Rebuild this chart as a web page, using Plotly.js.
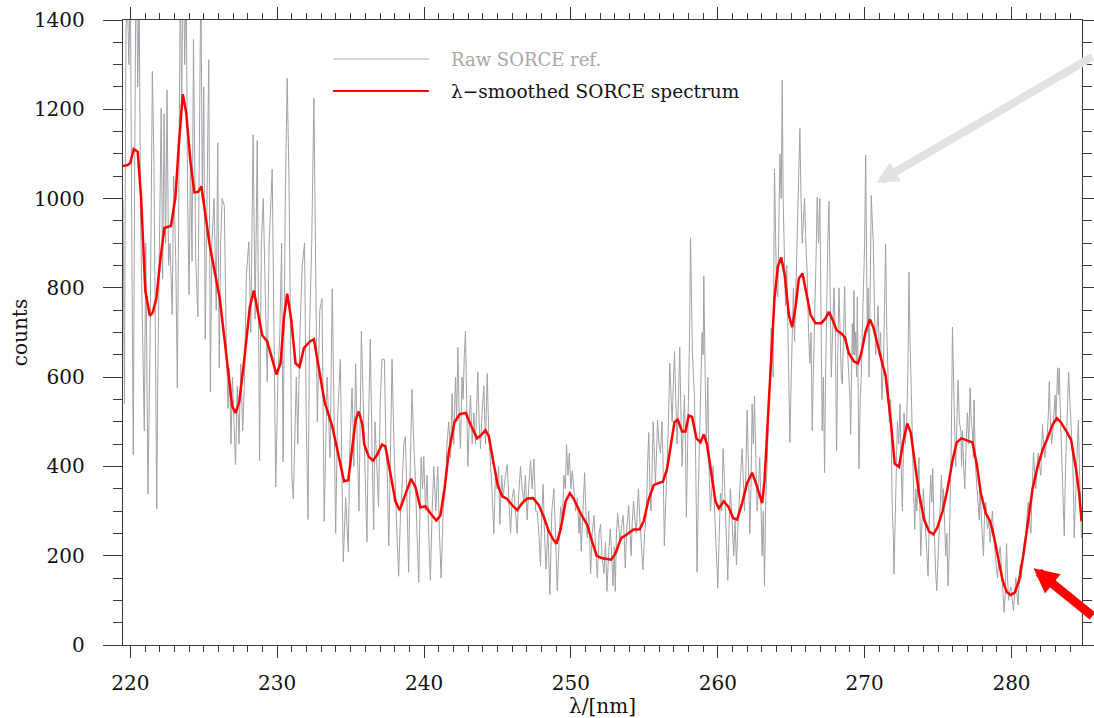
<!DOCTYPE html>
<html>
<head>
<meta charset="utf-8">
<script src="https://cdn.plot.ly/plotly-3.0.1.min.js"></script>
<style>
  html, body { margin: 0; padding: 0; background: #ffffff; }
  #chart { width: 1094px; height: 718px; }
</style>
</head>
<body>
<div id="chart"></div>
<script>
// ---------- data ----------
const legendRaw = "Raw SORCE ref.";
const legendSmooth = "\u03bb\u2212smoothed SORCE spectrum";
const xTitle = "\u03bb/[nm]";
const yTitle = "counts";

// raw SORCE reference spectrum (wavelength nm, counts)
const rawX = [
219.50,219.60,219.70,219.80,219.90,220.00,220.10,220.20,220.30,220.40,220.50,220.60,220.70,220.80,220.95,221.05,221.20,221.35,221.50,221.60,
221.70,221.80,221.86,222.00,222.10,222.20,222.30,222.40,222.50,222.60,222.70,222.85,222.95,223.10,223.20,223.30,223.40,223.50,223.60,223.70,
223.80,223.90,224.00,224.10,224.20,224.30,224.45,224.60,224.70,224.80,224.90,225.00,225.10,225.22,225.34,225.45,225.55,225.70,225.85,225.95,
226.05,226.15,226.25,226.40,226.52,226.65,226.75,226.85,226.95,227.16,227.28,227.40,227.52,227.65,227.78,227.90,228.07,228.20,228.36,228.50,
228.64,228.80,228.92,229.05,229.18,229.32,229.45,229.66,229.78,229.90,230.05,230.18,230.30,230.40,230.55,230.68,230.80,230.90,231.00,231.10,
231.20,231.30,231.40,231.55,231.70,231.86,231.98,232.10,232.20,232.35,232.50,232.62,232.73,232.90,233.05,233.20,233.30,233.40,233.60,233.75,
233.88,233.98,234.10,234.30,234.40,234.50,234.66,234.84,234.95,235.10,235.22,235.34,235.45,235.57,235.73,235.85,
236.00,236.11,236.22,236.34,236.45,236.57,236.66,236.75,236.90,237.02,237.14,237.30,237.40,237.48,237.60,237.72,237.82,237.95,238.05,238.15,
238.27,238.40,238.50,238.62,238.73,238.85,238.95,239.06,239.18,239.30,239.40,239.52,239.64,239.72,239.80,239.90,239.98,240.10,240.20,240.32,
240.43,240.55,240.66,240.80,240.93,241.05,241.16,241.30,241.45,241.56,241.68,241.80,241.91,242.02,242.14,242.22,242.30,242.40,242.48,242.58,
242.66,242.74,242.82,242.90,242.98,243.08,243.16,243.28,243.39,243.50,243.58,243.66,243.75,243.84,243.95,244.07,244.18,244.30,244.40,244.52,
244.62,244.75,244.86,244.98,245.08,245.16,245.28,245.39,245.50,245.66,245.78,245.89,246.00,246.11,246.22,246.34,246.45,246.57,246.68,246.80,
246.90,247.02,247.12,247.25,247.36,247.48,247.60,247.70,247.82,247.93,248.02,248.11,248.20,248.30,248.43,248.50,248.57,248.70,248.84,248.95,
249.07,249.18,249.30,249.42,249.52,249.62,249.70,249.80,249.89,250.00,250.09,250.20,250.32,250.44,250.55,250.62,250.70,250.82,250.93,251.02,
251.11,251.22,251.34,251.45,251.57,251.68,251.80,251.92,252.02,252.12,252.25,252.35,252.45,252.56,252.68,252.78,252.86,252.95,253.02,253.10,
253.18,253.28,253.36,253.46,253.55,253.62,253.70,253.80,253.93,254.02,254.10,254.18,254.27,254.36,254.45,254.52,254.60,254.68,254.77,254.90,
255.02,255.14,255.22,255.30,255.38,255.45,255.52,255.60,255.68,255.75,255.82,255.90,256.00,256.10,256.20,256.28,256.36,256.45,256.55,256.64,
256.73,256.80,256.89,256.97,257.05,257.14,257.23,257.32,257.41,257.50,257.57,257.65,257.73,257.80,257.86,257.95,258.02,258.08,258.14,258.20,
258.27,258.34,258.41,258.50,258.59,258.68,258.77,258.85,258.93,259.00,259.05,259.14,259.23,259.32,259.40,259.50,259.60,259.68,259.76,259.84,
259.92,260.00,260.10,260.18,260.27,260.36,260.44,260.52,260.60,260.68,260.78,260.86,260.97,261.09,261.18,261.27,261.35,261.43,261.55,261.66,
261.75,261.82,261.92,262.00,262.09,262.18,262.26,262.34,262.42,262.50,262.59,262.68,262.77,262.86,262.95,263.02,263.10,263.18,263.25,263.32,
263.40,263.48,263.56,263.64,263.70,263.77,263.86,263.93,264.00,264.09,264.16,264.23,264.32,264.39,264.45,264.50,264.56,264.61,264.70,264.77,
264.84,264.91,265.00,265.07,265.15,265.23,265.32,265.41,265.50,265.59,265.67,265.75,265.83,265.91,266.00,266.09,266.18,266.27,266.35,266.43,
266.50,266.59,266.68,266.77,266.86,266.95,267.03,267.11,267.19,267.27,267.34,267.41,267.49,267.57,267.65,267.73,267.82,267.91,268.00,268.09,
268.17,268.25,268.33,268.41,268.48,268.55,268.64,268.70,268.77,268.85,268.93,269.00,269.05,269.10,269.16,269.22,269.27,269.33,269.39,269.45,
269.50,269.55,269.61,269.70,269.77,269.84,269.91,270.00,270.07,270.12,270.18,270.24,270.30,270.38,270.45,270.52,270.59,270.67,270.75,270.83,
270.91,271.00,271.09,271.18,271.27,271.35,271.43,271.51,271.59,271.68,271.77,271.83,271.89,271.95,272.00,272.06,272.11,272.17,272.23,272.32,
272.41,272.49,272.57,272.63,272.68,272.77,272.86,272.94,273.02,273.08,273.14,273.20,273.25,273.33,273.41,273.48,273.55,273.62,273.70,273.76,
273.82,273.91,274.00,274.08,274.16,274.24,274.32,274.41,274.50,274.57,274.64,274.70,274.77,274.84,274.91,275.00,275.07,275.15,275.23,275.30,
275.36,275.44,275.52,275.60,275.68,275.75,275.82,275.90,275.98,276.04,276.09,276.15,276.20,276.28,276.36,276.45,276.55,276.60,276.66,276.74,
276.82,276.91,277.00,277.09,277.18,277.26,277.34,277.40,277.45,277.55,277.64,277.72,277.80,277.86,277.91,278.00,278.09,278.17,278.25,278.30,
278.36,278.45,278.55,278.62,278.70,278.78,278.86,278.95,279.05,279.14,279.23,279.30,279.39,279.45,279.50,279.58,279.66,279.73,279.80,279.88,
279.95,280.05,280.14,280.22,280.30,280.38,280.45,280.52,280.59,280.67,280.75,280.86,280.98,281.06,281.14,281.23,281.32,281.41,281.50,281.58,
281.66,281.74,281.82,281.91,282.00,282.06,282.11,282.19,282.27,282.36,282.45,282.51,282.57,282.65,282.73,282.82,282.91,282.97,283.02,283.08,
283.14,283.20,283.25,283.30,283.36,283.42,283.48,283.54,283.59,283.68,283.77,283.83,283.89,283.97,284.05,284.10,284.16,284.22,284.27,284.33,
284.39,284.47,284.55,284.62,284.68,284.73,284.77,284.85
];
const rawY = [
1000,540,1380,1450,1300,1500,900,426,1100,1600,1250,1450,950,785,480,900,338,700,1285,1100,
650,305,580,900,1202,820,1190,900,1243,850,900,740,1050,850,576,1000,1500,1200,1600,1300,
1500,1000,785,1100,860,1356,866,735,1200,1500,1000,1250,685,1000,1311,567,900,1000,750,1125,
620,900,1000,984,700,530,620,450,600,404,580,450,630,480,600,830,903,700,1143,730,
1130,413,900,1000,760,590,900,1066,700,354,600,700,900,410,1000,1270,1050,700,377,327,
500,600,450,700,848,900,500,281,700,900,1225,800,500,750,776,277,450,600,420,798,
500,250,500,640,400,186,330,209,450,576,400,630,450,300,703,560,
380,231,500,685,450,259,500,420,310,550,640,640,450,400,222,450,640,450,330,250,
154,300,350,450,467,300,163,400,572,450,380,250,141,300,420,350,422,300,380,250,
145,300,400,300,400,250,150,300,350,450,500,420,563,450,600,500,667,500,440,600,
550,650,703,550,400,500,560,450,520,450,550,612,500,440,520,580,450,608,480,420,
350,250,380,350,400,270,380,330,370,404,320,250,330,350,300,250,340,400,350,320,
380,280,350,413,350,417,300,300,250,177,300,360,250,170,260,200,113,300,350,250,
122,220,310,280,380,350,449,380,430,350,390,350,300,330,250,300,210,300,386,300,
240,300,160,250,290,220,150,250,270,200,160,230,120,200,260,200,132,220,120,250,
295,260,230,270,290,250,172,260,313,250,200,280,322,280,250,300,350,290,230,168,
250,300,400,476,350,300,380,500,430,360,420,504,450,430,500,400,222,300,400,500,
631,550,500,580,658,550,450,550,667,500,400,480,560,450,286,450,580,700,912,750,
660,600,560,400,163,350,500,600,700,650,826,600,450,600,400,300,350,400,320,250,
200,127,250,340,300,440,380,300,250,145,280,350,280,200,280,180,250,320,380,440,
350,300,400,526,400,250,350,540,450,558,420,300,350,420,300,200,300,132,300,400,
450,550,600,710,650,600,1066,900,800,780,950,1100,1000,1266,1000,900,800,760,850,700,
600,454,600,700,800,680,800,900,1000,1157,1000,900,950,1000,900,830,700,631,700,480,
600,700,850,1003,900,1000,800,480,600,386,600,800,900,994,800,600,700,800,700,435,
650,800,700,600,585,700,803,700,680,650,600,550,472,600,720,650,794,650,700,600,
780,600,395,550,600,700,800,900,1098,850,700,800,600,800,1007,950,900,750,650,700,
760,650,700,550,620,750,898,700,620,500,550,400,290,250,159,250,350,420,500,450,
540,400,300,420,520,450,500,600,835,700,600,500,400,350,259,350,300,380,420,300,
200,280,350,300,250,200,154,300,380,320,395,300,200,160,122,200,250,300,380,300,
350,280,200,250,132,200,300,450,712,600,550,450,400,500,594,500,480,400,480,400,
350,450,520,450,576,500,480,420,549,400,360,320,280,350,300,250,200,300,320,280,
260,280,230,260,300,250,210,180,150,200,220,180,150,120,73,120,227,150,100,120,
130,100,77,120,150,110,90,140,180,150,200,230,250,290,320,280,250,350,431,380,
350,400,430,400,380,450,494,450,420,450,480,520,590,500,450,480,520,560,500,560,
621,560,620,550,480,420,350,300,245,400,500,550,612,550,500,450,420,350,240,300,
350,450,504,400,330,280,240,260
];

// lambda-smoothed SORCE spectrum
const smoothX = [
219.50,219.82,220.00,220.23,220.50,220.73,221.02,221.32,221.52,221.77,222.05,222.32,222.77,223.07,223.30,223.57,223.80,224.09,224.36,224.61,
224.84,225.11,225.41,225.73,226.09,226.41,226.70,226.93,227.16,227.41,227.73,228.14,228.41,228.68,228.98,229.32,229.66,229.95,230.23,230.45,
230.68,230.95,231.25,231.52,231.82,232.23,232.50,232.84,233.23,233.75,234.20,234.55,234.84,235.07,235.34,235.55,235.80,235.93,236.23,236.52,
236.80,237.14,237.36,237.70,238.05,238.34,238.73,239.11,239.41,239.75,240.09,240.43,240.84,241.11,241.39,241.68,242.07,242.43,242.84,243.16,
243.61,243.89,244.18,244.41,244.70,245.02,245.32,245.66,246.00,246.34,246.68,247.02,247.43,247.82,248.16,248.50,248.80,249.02,249.30,249.64,
249.93,250.20,250.66,251.11,251.45,251.75,252.07,252.36,252.73,253.02,253.41,253.82,254.27,254.68,254.95,255.30,255.64,255.98,256.27,256.55,
256.82,257.05,257.27,257.57,257.80,258.02,258.25,258.55,258.82,259.05,259.27,259.55,259.84,260.07,260.41,260.75,261.05,261.32,261.66,262.00,
262.34,262.64,263.02,263.18,263.41,263.64,263.86,264.09,264.32,264.55,264.84,265.07,265.30,265.52,265.77,266.05,266.32,266.66,267.05,267.34,
267.57,267.80,268.09,268.36,268.64,268.93,269.27,269.55,269.77,270.07,270.36,270.59,270.91,271.20,271.43,271.77,272.05,272.34,272.64,272.91,
273.14,273.41,273.70,274.05,274.39,274.68,274.95,275.30,275.64,275.98,276.27,276.59,277.00,277.34,277.64,277.91,278.25,278.55,278.82,279.09,
279.39,279.68,279.95,280.23,280.52,280.82,281.14,281.43,281.77,282.11,282.45,282.80,283.09,283.36,283.70,284.05,284.39,284.61,284.77
];
const smoothY = [
1073,1075,1080,1111,1105,1003,794,738,744,776,866,934,939,1003,1120,1234,1193,1084,1014,1015,
1027,966,894,839,776,685,594,535,520,544,631,758,794,748,694,680,640,606,631,730,
787,730,631,623,665,680,685,622,544,490,422,367,369,431,504,523,494,449,422,413,
426,449,445,386,322,302,340,372,354,308,311,295,279,290,349,431,499,517,520,494,
463,470,481,467,413,358,333,327,313,302,318,328,329,313,286,254,236,227,259,322,
340,327,295,269,231,200,195,193,191,204,239,248,259,259,277,327,358,363,366,395,
449,499,505,478,478,514,511,463,454,472,449,386,322,306,322,308,284,281,318,363,
386,358,318,367,504,640,776,848,868,830,739,712,758,821,832,785,739,721,721,732,
746,730,705,699,690,653,635,631,653,703,729,712,667,631,603,504,406,399,458,496,
476,413,340,281,254,248,263,299,349,413,454,463,458,454,404,340,295,277,240,195,
145,118,112,118,145,204,277,349,399,436,463,494,508,499,481,460,395,340,277
];

// axis settings
const xRange = [219.5, 284.8];
const yRange = [0, 1400];

// ---------- plot ----------
const axisColor = '#3a3a3a';
const tickFont = { family: 'DejaVu Serif', size: 20, color: '#111111' };

const traces = [
  { x: rawX, y: rawY, type: 'scatter', mode: 'lines', name: legendRaw,
    line: { color: '#a0a2a8', width: 1 }, hoverinfo: 'skip', showlegend: false },
  { x: smoothX, y: smoothY, type: 'scatter', mode: 'lines', name: legendSmooth,
    line: { color: '#ff0000', width: 2.5 }, hoverinfo: 'skip', showlegend: false }
];

const layout = {
  width: 1094, height: 718,
  margin: { l: 123, r: 12, t: 20, b: 73 },
  paper_bgcolor: '#ffffff', plot_bgcolor: '#ffffff',
  showlegend: false,
  xaxis: {
    range: xRange, tick0: 220, dtick: 10,
    ticks: 'outside', ticklen: 12, tickwidth: 1, tickcolor: axisColor,
    minor: { dtick: 1, ticks: 'outside', ticklen: 6, tickwidth: 1, tickcolor: axisColor, showgrid: false },
    showline: true, linecolor: axisColor, linewidth: 1.2, mirror: 'allticks',
    showgrid: false, zeroline: false,
    tickfont: tickFont, ticklabelstandoff: 8,
    title: { text: xTitle, font: { family: 'DejaVu Serif', size: 20, color: '#111111' }, standoff: 0 }
  },
  yaxis: {
    range: yRange, tick0: 0, dtick: 200,
    ticks: 'outside', ticklen: 19, tickwidth: 1, tickcolor: axisColor,
    minor: { dtick: 50, ticks: 'outside', ticklen: 9, tickwidth: 1, tickcolor: axisColor, showgrid: false },
    showline: true, linecolor: axisColor, linewidth: 1.2, mirror: 'allticks',
    showgrid: false, zeroline: false,
    tickfont: tickFont, ticklabelstandoff: 14,
    title: { text: yTitle, font: { family: 'DejaVu Serif', size: 20, color: '#111111' }, standoff: 0 }
  },
  shapes: [
    { type: 'line', xref: 'paper', yref: 'paper', x0: 0.219, x1: 0.319, y0: 0.9376, y1: 0.9376,
      line: { color: '#c4c4c4', width: 1.5 } },
    { type: 'line', xref: 'paper', yref: 'paper', x0: 0.219, x1: 0.319, y0: 0.8864, y1: 0.8864,
      line: { color: '#ff0000', width: 2 } }
  ],
  annotations: [
    { xref: 'paper', yref: 'paper', x: 0.340, y: 0.9376, xanchor: 'left', yanchor: 'middle',
      text: legendRaw, showarrow: false, font: { family: 'DejaVu Serif', size: 18, color: '#a8a8a8' } },
    { xref: 'paper', yref: 'paper', x: 0.340, y: 0.8864, xanchor: 'left', yanchor: 'middle',
      text: legendSmooth, showarrow: false, font: { family: 'DejaVu Serif', size: 18.5, color: '#111111' } },
    { x: 270.8, y: 1035, xref: 'x', yref: 'y', ax: 232, ay: -127, axref: 'pixel', ayref: 'pixel',
      text: '', showarrow: true, arrowhead: 2, arrowsize: 0.55, arrowwidth: 8, arrowcolor: '#e2e2e2' },
    { x: 281.5, y: 172, xref: 'x', yref: 'y', ax: 72, ay: 49, axref: 'pixel', ayref: 'pixel',
      text: '', showarrow: true, arrowhead: 2, arrowsize: 0.55, arrowwidth: 9, arrowcolor: '#ff0000' }
  ]
};

Plotly.newPlot('chart', traces, layout, { staticPlot: true, displayModeBar: false });
</script>
</body>
</html>
